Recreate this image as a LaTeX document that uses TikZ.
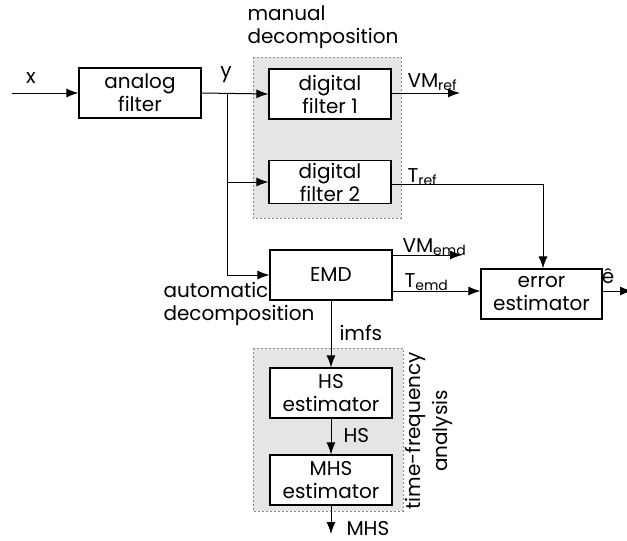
\documentclass[tikz,border=0pt]{standalone}
\usepackage{fontspec}
\setmainfont{Poppins}
\usetikzlibrary{arrows.meta}

\begin{document}
\begin{tikzpicture}[x=0.5pt, y=-0.5pt, line width=0.5pt,
    >={Latex[length=6pt,width=4.5pt]},
    block/.style={shape=rectangle, draw=black, line width=0.6pt, fill=white,
        minimum width=61pt, minimum height=25pt, inner sep=0pt, align=center,
        font=\fontsize{10}{11.5}\selectfont},
    group/.style={fill=black!10, draw=black!45, line width=0.4pt,
        dash pattern=on 1pt off 1pt},
    lbl/.style={inner sep=0pt, font=\fontsize{10}{11.5}\selectfont}]
    \useasboundingbox (0,0) rectangle (627,541);
    % shaded groups
    \path[group] (253,57) rectangle (401,218);
    \path[group] (253,348) rectangle (403,511);
    % blocks
    \node[block] at (140,93) (AF) {analog\\filter};
    \node[block] at (330,94) (DF1) {digital\\filter 1};
    \node[block, minimum height=21.5pt] at (330,182) (DF2) {digital\\filter 2};
    \node[block] at (331,275) (EMD) {EMD};
    \node[block, minimum width=60.5pt] at (541.5,294) (EE) {error\\estimator};
    \node[block] at (331,393) (HS) {HS\\estimator};
    \node[block] at (331,480) (MHS) {MHS\\estimator};
    % free ends
    \coordinate (X) at (12,93);
    \coordinate (Y) at (227,93);
    \coordinate (VMref) at (460,93);
    \coordinate (Tref) at (543,184);
    \coordinate (VMemd) at (462,255);
    \coordinate (Temd) at (392,291);
    \coordinate (Eout) at (632,291);
    \coordinate (MHSout) at (331,534);
    % connectors
    \draw[->] (X) -- (AF.west);
    \draw[->] (AF.east) -- (DF1.west);
    \draw[->] (Y) |- (DF2.west);
    \draw[->] (Y) |- (EMD.west);
    \draw[->] (DF1.east |- VMref) -- (VMref);
    \draw[->] (DF2.east |- Tref) -- (Tref) -- (EE.north -| Tref);
    \draw[->] (EMD.east |- VMemd) -- (VMemd);
    \draw[->] (Temd) -- (EE.west |- Temd);
    \draw[->] (EE.east |- Eout) -- (Eout);
    \draw[->] (EMD.south) -- (HS.north);
    \draw[->] (HS.south) -- (MHS.north);
    \draw[->] (MHS.south) -- (MHSout);
    % labels (multi-line ones sit on their last baseline)
    \node[lbl, anchor=base] at (31,83) (xlab) {x};
    \node[lbl, anchor=base] at (226,77) (ylab) {y};
    \node[lbl, anchor=base west, align=left] at (247,43) (manlab) {manual\\decomposition};
    \node[lbl, anchor=base west] at (407,87) (vmref) {VM\textsubscript{ref}};
    \node[lbl, anchor=base west] at (407,182) (tref) {T\textsubscript{ref}};
    \node[lbl, anchor=base west] at (402,252) (vmemd) {VM\textsubscript{emd}};
    \node[lbl, anchor=base west] at (404,287) (temd) {T\textsubscript{emd}};
    \node[lbl, anchor=base] at (608,283) (ehat) {ê};
    \node[lbl, anchor=base west, align=left] at (163,320) (autolab) {automatic\\decomposition};
    \node[lbl, anchor=base west] at (339,340) (imfs) {imfs};
    \node[lbl, anchor=base west] at (343,442) (hslab) {HS};
    \node[lbl, anchor=base west] at (346,535) (mhslab) {MHS};
    \node[lbl, rotate=90, align=center, font=\fontsize{10}{13.5}\selectfont] at (429,431) (tflab) {time-frequency\\analysis};
\end{tikzpicture}
\end{document}
